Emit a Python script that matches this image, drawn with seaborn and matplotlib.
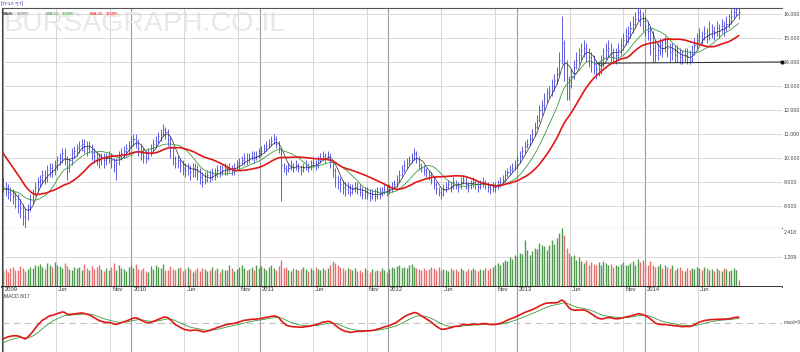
import numpy as np
import pandas as pd
import seaborn as sns
import matplotlib.pyplot as plt

# weekly bars, Jan 2009 - Sep 2014 (hundreds of index points)
close = [88, 87, 86, 85, 84, 83, 81, 79, 76, 75,
         80, 83, 85, 88, 90, 91, 93, 92, 95, 96,
         95, 97, 99, 100, 102, 100, 96, 99, 102, 103,
         104, 105, 106, 105, 104, 105, 102, 101, 100, 99,
         100, 99, 100, 101, 99, 97, 98, 101, 102, 103,
         104, 105, 107, 108, 107, 104, 102, 101, 100, 102,
         104, 106, 107, 109, 110, 112, 111, 108, 104, 100,
         98, 99, 97, 96, 95, 96, 94, 96, 95, 94,
         92, 90, 91, 93, 92, 94, 93, 95, 94, 95,
         96, 95, 96, 95, 96, 97, 98, 99, 100, 99,
         100, 101, 100, 101, 102, 103, 104, 105, 106, 107,
         108, 106, 104, 97, 96, 95, 96, 97, 96, 97,
         96, 95, 96, 97, 96, 97, 98, 97, 99, 100,
         101, 100, 101, 99, 95, 92, 90, 89, 88, 87,
         88, 86, 87, 88, 87, 86, 85, 86, 85, 84,
         85, 84, 86, 85, 86, 87, 86, 87, 88, 89,
         91, 93, 95, 97, 98, 99, 100, 102, 100, 97,
         96, 95, 94, 93, 91, 89, 87, 86, 85, 87,
         88, 89, 88, 90, 89, 88, 90, 91, 89, 88,
         89, 90, 89, 88, 89, 90, 89, 88, 87, 88,
         88, 89, 90, 91, 93, 94, 95, 96, 97, 99,
         101, 103, 105, 106, 108, 110, 113, 116, 120, 122,
         125, 127, 128, 130, 132, 135, 141, 148, 140, 133,
         130, 134, 138, 141, 143, 145, 146, 144, 142, 140,
         139, 137, 137, 139, 142, 145, 146, 144, 142, 143,
         145, 147, 149, 151, 152, 154, 156, 158, 161, 159,
         157, 155, 153, 150, 146, 143, 145, 147, 146, 148,
         146, 144, 145, 143, 144, 142, 141, 143, 142, 141,
         144, 147, 149, 151, 150, 152, 151, 152, 153, 152,
         154, 153, 155, 154, 156, 157, 159, 161, 162, 161]

high = [92, 90, 89, 88, 87, 86, 85, 83, 81, 79,
        81, 85, 87, 90, 92, 93, 95, 95, 97, 98,
        98, 99, 101, 102, 104, 104, 101, 100, 104, 105,
        106, 107, 108, 108, 107, 107, 106, 104, 103, 102,
        102, 102, 102, 103, 102, 100, 100, 103, 104, 105,
        106, 107, 109, 110, 110, 108, 106, 104, 103, 104,
        106, 108, 109, 111, 112, 114, 113, 112, 109, 105,
        101, 101, 100, 99, 98, 98, 97, 98, 98, 97,
        96, 94, 94, 95, 95, 96, 96, 97, 97, 97,
        98, 97, 98, 97, 98, 99, 100, 101, 102, 102,
        102, 103, 103, 103, 104, 105, 106, 107, 108, 109,
        110, 109, 107, 104, 98, 97, 98, 99, 98, 99,
        98, 97, 98, 99, 98, 99, 100, 99, 101, 102,
        103, 102, 103, 102, 99, 96, 93, 92, 91, 90,
        90, 89, 89, 90, 90, 89, 88, 88, 88, 87,
        87, 87, 88, 88, 88, 89, 89, 89, 90, 91,
        93, 95, 97, 99, 100, 101, 102, 104, 103, 101,
        98, 97, 96, 95, 94, 92, 90, 88, 87, 89,
        90, 91, 90, 92, 91, 90, 92, 93, 92, 90,
        91, 92, 91, 90, 91, 92, 91, 90, 89, 90,
        90, 91, 92, 93, 95, 96, 97, 98, 99, 101,
        103, 105, 107, 108, 110, 112, 115, 118, 122, 124,
        127, 129, 130, 133, 135, 138, 144, 159, 149, 141,
        134, 137, 141, 144, 146, 148, 149, 148, 146, 144,
        143, 141, 140, 143, 146, 148, 149, 148, 146, 146,
        148, 150, 152, 154, 155, 157, 159, 161, 163, 162,
        161, 159, 157, 155, 153, 149, 148, 150, 149, 151,
        150, 148, 148, 147, 147, 146, 145, 146, 146, 145,
        147, 150, 152, 154, 153, 155, 154, 157, 156, 155,
        157, 156, 158, 157, 159, 160, 162, 164, 164, 163]

low = [86, 84, 83, 82, 81, 79, 77, 75, 72, 71,
       74, 78, 81, 84, 86, 88, 89, 89, 90, 92,
       92, 93, 95, 97, 98, 97, 91, 94, 97, 100,
       101, 102, 103, 102, 101, 102, 99, 98, 97, 96,
       97, 96, 97, 98, 96, 94, 91, 97, 99, 100,
       101, 102, 104, 105, 104, 101, 99, 98, 98, 99,
       101, 103, 104, 106, 107, 109, 108, 105, 100, 97,
       96, 96, 94, 93, 92, 93, 91, 92, 92, 91,
       89, 88, 89, 90, 90, 91, 91, 92, 92, 93,
       93, 93, 94, 93, 93, 95, 95, 97, 97, 97,
       98, 99, 98, 99, 100, 101, 102, 103, 104, 105,
       106, 104, 102, 82, 94, 93, 94, 95, 94, 95,
       94, 93, 94, 95, 94, 95, 96, 95, 96, 98,
       99, 98, 99, 96, 92, 88, 87, 86, 85, 84,
       85, 84, 85, 86, 85, 84, 83, 83, 83, 82,
       83, 82, 83, 83, 84, 85, 84, 85, 86, 87,
       88, 90, 92, 94, 96, 97, 98, 99, 98, 95,
       94, 93, 92, 91, 89, 87, 85, 84, 83, 84,
       86, 87, 86, 87, 87, 86, 87, 89, 87, 86,
       87, 88, 87, 86, 87, 88, 87, 86, 85, 86,
       86, 87, 88, 89, 90, 92, 93, 94, 95, 96,
       98, 100, 102, 104, 105, 107, 109, 112, 115, 118,
       120, 123, 125, 126, 128, 131, 134, 139, 132, 124,
       124, 129, 133, 137, 139, 141, 142, 140, 138, 136,
       135, 133, 134, 135, 138, 141, 142, 140, 139, 139,
       141, 143, 145, 147, 148, 150, 152, 154, 157, 155,
       153, 151, 149, 143, 140, 140, 141, 143, 142, 144,
       142, 140, 141, 140, 140, 139, 139, 140, 139, 139,
       140, 143, 146, 148, 147, 149, 148, 149, 150, 149,
       151, 150, 152, 151, 153, 154, 156, 158, 159, 158]

volume = [650, 720, 600, 780, 820, 700, 690, 850, 760, 640,
          720, 820, 780, 900, 870, 930, 800, 750, 960, 880,
          810, 1000, 900, 840, 780, 980, 860, 720, 690, 800,
          760, 830, 690, 950, 780, 700, 860, 740, 800, 900,
          720, 650, 780, 690, 830, 960, 700, 880, 760, 720,
          640, 820, 900, 780, 950, 720, 680, 760, 650, 600,
          840, 720, 880, 800, 760, 940, 700, 690, 870, 720,
          680, 760, 820, 650, 720, 800, 740, 600, 700, 760,
          640, 780, 720, 650, 700, 820, 690, 760, 600, 740,
          700, 680, 900, 760, 650, 720, 800, 880, 760, 700,
          740, 820, 700, 900, 780, 860, 760, 700, 820, 900,
          780, 700, 860, 1100, 760, 820, 700, 650, 780, 720,
          690, 740, 800, 720, 660, 760, 700, 820, 740, 680,
          760, 700, 780, 900, 1050, 960, 880, 820, 760, 700,
          780, 720, 680, 760, 640, 700, 620, 760, 680, 600,
          720, 660, 700, 640, 760, 690, 620, 740, 800, 780,
          860, 900, 780, 820, 760, 880, 940, 800, 760, 720,
          700, 780, 680, 720, 800, 760, 700, 820, 680, 740,
          700, 640, 760, 680, 720, 660, 780, 700, 650, 720,
          680, 760, 700, 640, 720, 680, 760, 700, 780, 820,
          880, 960, 900, 1000, 1100, 1050, 1200, 1150, 1300, 1250,
          1400, 1350, 1900, 1500, 1300, 1450, 1600, 1550, 1800, 1700,
          1650, 1500, 1700, 1900, 1750, 2000, 2200, 2418, 2100, 1600,
          1400, 1250, 1300, 1100, 1200, 1050, 980, 1100, 900, 1000,
          950, 880, 1000, 900, 1050, 960, 880, 920, 820, 900,
          860, 950, 1000, 900, 880, 980, 1050, 900, 1150, 1000,
          1100, 950, 880, 1050, 900, 820, 860, 950, 780, 900,
          820, 760, 880, 700, 760, 820, 700, 640, 760, 700,
          780, 720, 800, 760, 700, 820, 760, 680, 720, 640,
          760, 700, 660, 780, 720, 640, 700, 760, 680, 300]

# H2 2008 closes, only feed the averages / MACD at the start
warmup = [125, 127, 124, 122, 123, 121, 120, 118, 119, 116, 113, 110, 106,
          98, 92, 88, 86, 90, 87, 84, 86, 88, 85, 86, 88, 87]

label_dates = ['2009-01-01', '2009-06-01', '2009-11-01', '2010-01-01', '2010-06-01', '2010-11-01',
               '2011-01-01', '2011-06-01', '2011-11-01', '2012-01-01', '2012-06-01', '2012-11-01',
               '2013-01-01', '2013-06-01', '2013-11-01', '2014-01-01', '2014-06-01']
label_text = ['2009', 'Jun', 'Nov', '2010', 'Jun', 'Nov', '2011', 'Jun', 'Nov',
              '2012', 'Jun', 'Nov', '2013', 'Jun', 'Nov', '2014', 'Jun']
price_ticks = [8000, 9000, 10000, 11000, 12000, 13000, 14000, 15000, 16000]
vol_ticks = [1209, 2418]
trend_dates = ['2013-08-20', '2015-01-26']
trend_values = [13950, 14000]

dates = pd.date_range('2009-01-01', periods=len(close), freq='7D')
df = pd.DataFrame({'date': dates,
                   'close': np.array(close) * 100,
                   'high': np.array(high) * 100,
                   'low': np.array(low) * 100,
                   'volume': volume})

full = pd.Series(warmup + close, dtype=float) * 100
n0 = len(warmup)
df['ma5'] = full.rolling(5).mean().iloc[n0:].values
df['ma13'] = full.rolling(13).mean().iloc[n0:].values
df['ma26'] = full.rolling(26).mean().iloc[n0:].values
ema8 = full.ewm(span=8, adjust=False).mean()
ema17 = full.ewm(span=17, adjust=False).mean()
macd = (ema8 - ema17) / ema17 * 100
sig = macd.ewm(span=9, adjust=False).mean()
df['macd'] = macd.iloc[n0:].values
df['signal'] = sig.iloc[n0:].values
df['up'] = df['close'].diff().fillna(1) >= 0

sns.set_style('white')
plt.rcParams['font.family'] = ['DejaVu Sans']

fig = plt.figure(figsize=(8, 3.52), dpi=100)
L, R = 2 / 800, 782 / 800
def yf(px):
    return 1 - px / 352
def xf(px):
    return (px - 2) / 780
ax_p = fig.add_axes([L, yf(227.5), R - L, yf(7.5) - yf(227.5)])
ax_v = fig.add_axes([L, yf(287), R - L, yf(227.5) - yf(287)])
ax_m = fig.add_axes([L, 0, R - L, yf(287)])

xmin, xmax = pd.Timestamp('2008-12-29'), pd.Timestamp('2015-01-26')
for ax in (ax_p, ax_v, ax_m):
    ax.set_xlim(xmin, xmax)
    ax.set_xticks([])
    for d, t in zip(label_dates, label_text):
        yr = t.isdigit()
        ax.axvline(pd.Timestamp(d), color='#9a9a9a' if yr else '#cfcfcf', lw=0.8 if yr else 0.6, zorder=0)
    for s in ('top', 'right', 'bottom'):
        ax.spines[s].set_visible(False)
    ax.spines['left'].set_color('#444444')
    ax.spines['left'].set_linewidth(0.8)

lab = dict(fontsize=3.8, family='Liberation Sans', color='#444444')

# watermark
ax_p.text(0.002, 0.985, 'BURSAGRAPH.CO.IL', transform=ax_p.transAxes, ha='left', va='top',
          fontsize=20.5, family='Liberation Sans', color='#e8e8e8', zorder=0)

# price panel
ax_p.set_ylim(7104, 16270)
ax_p.set_yticks([])
for v in price_ticks:
    ax_p.axhline(v, color='#d4d4d4', lw=0.6, zorder=0)
    ax_p.text(1.002, v, f'{v:,}', transform=ax_p.get_yaxis_transform(), va='center', ha='left', **lab)
ax_p.spines['top'].set_visible(True)
ax_p.spines['top'].set_color('#555555')
ax_p.spines['bottom'].set_visible(True)
ax_p.spines['bottom'].set_color('#555555')

ax_p.vlines(df['date'], df['low'], df['high'], color='#4646e0', lw=0.6, zorder=3)
ax_p.hlines(df['close'], df['date'], df['date'] + pd.Timedelta(days=3), color='#4646e0', lw=0.6, zorder=3)
sns.lineplot(data=df, x='date', y='ma5', ax=ax_p, color='#303030', lw=0.5, zorder=4)
sns.lineplot(data=df, x='date', y='ma13', ax=ax_p, color='#3c9a3c', lw=0.6, zorder=4)
sns.lineplot(data=df, x='date', y='ma26', ax=ax_p, color='#e01818', lw=1.2, zorder=5)
ax_p.plot(pd.to_datetime(trend_dates), trend_values, color='#333333', lw=0.8, zorder=4)
ax_p.plot(pd.Timestamp(trend_dates[1]), trend_values[1], 'o', color='#111111', ms=2, clip_on=False, zorder=6)
ax_p.set_xlabel('')
ax_p.set_ylabel('')

# legend row
leg = dict(transform=ax_p.transAxes, fontsize=3.1, family='Liberation Sans', va='top')
leg_y = 0.978
ax_p.text(xf(2.5), leg_y, 'Wk/h', color='#222222', weight='bold', **leg)
ax_p.text(xf(17), leg_y, f"{df['close'].iloc[-1]:.0f}", color='#666666',
          bbox=dict(boxstyle='square,pad=0.05', fc='#eeeeee', ec='none'), **leg)
ax_p.text(xf(46), leg_y, 'MA 13', color='#3c9a3c', **leg)
ax_p.text(xf(61.5), leg_y, f"{df['ma13'].iloc[-1]:.0f}", color='#3c9a3c',
          bbox=dict(boxstyle='square,pad=0.05', fc='#e4f2e4', ec='none'), **leg)
ax_p.text(xf(90), leg_y, 'MA 26', color='#e01818', **leg)
ax_p.text(xf(105.5), leg_y, f"{df['ma26'].iloc[-1]:.0f}", color='#e01818',
          bbox=dict(boxstyle='square,pad=0.05', fc='#f8e2e2', ec='none'), **leg)
fig.text(0.001, 0.997, '[תיבה ףד]', fontsize=3.6, color='#3030c0', va='top', ha='left')

# volume panel
ax_v.set_ylim(0, 2418)
ax_v.vlines(df['date'], 0, df['volume'], lw=1.0,
            colors=np.where(df['up'], '#4f9a4f', '#e67070'), zorder=2)
ax_v.axhline(vol_ticks[0], color='#d4d4d4', lw=0.6, zorder=0)
ax_v.set_yticks([])
ax_v.spines['bottom'].set_visible(True)
ax_v.spines['bottom'].set_color('#111111')
ax_v.spines['bottom'].set_linewidth(1.2)
ax_v.text(1.002, vol_ticks[0], f'{vol_ticks[0]:,}', transform=ax_v.get_yaxis_transform(), va='center', ha='left', **lab)
ax_v.text(1.002, vol_ticks[1] * 0.97, f'{vol_ticks[1]:,}', transform=ax_v.get_yaxis_transform(), va='top', ha='left', **lab)

# macd panel
m = df['macd'].max()
ax_m.set_ylim(-m * 29 / 23, m * 36 / 23)
ax_m.set_yticks([])
ax_m.axhline(0, color='#c0c0c0', lw=0.8, ls=(0, (6, 4)), zorder=1)
sns.lineplot(data=df, x='date', y='signal', ax=ax_m, color='#3c9a3c', lw=0.6, zorder=3)
sns.lineplot(data=df, x='date', y='macd', ax=ax_m, color='#e01818', lw=1.2, zorder=4)
ax_m.set_xlabel('')
ax_m.set_ylabel('')
ax_m.text(1.002, 0, 'macd=0', transform=ax_m.get_yaxis_transform(), va='center', ha='left',
          fontsize=3.4, family='Liberation Sans', color='#444444')
ax_m.text(0.002, 0.86, 'MACD 8/17', transform=ax_m.transAxes, fontsize=3.6, family='Liberation Sans',
          color='#333333', va='center')
for d, t in zip(label_dates, label_text):
    ax_m.text(pd.Timestamp(d) + pd.Timedelta(days=6), 0.955, t, transform=ax_m.get_xaxis_transform(),
              fontsize=4.2, family='Liberation Sans', color='#333333', va='center', ha='left')

fig.savefig('out.png', dpi=100, facecolor='white')
plt.close(fig)
